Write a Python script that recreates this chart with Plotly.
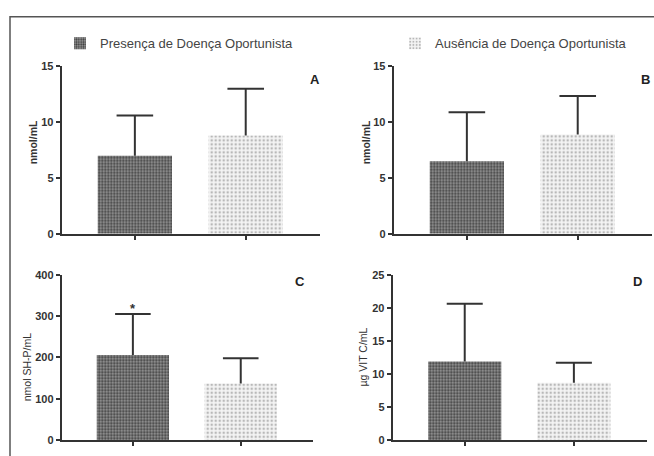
import plotly.graph_objects as go

# ---- data ----
groups = ["Presença de Doença Oportunista", "Ausência de Doença Oportunista"]
panel_letters = ["A", "B", "C", "D"]
y_titles = ["nmol/mL", "nmol/mL", "nmol SH-P/mL", "µg VIT C/mL"]
means_A = [7.0, 8.8]
err_A = [3.6, 4.2]
means_B = [6.5, 8.9]
err_B = [4.4, 3.45]
means_C = [206, 137]
err_C = [99, 61]
means_D = [11.9, 8.7]
err_D = [8.7, 3.0]
y_max = [15, 15, 400, 25]
y_dtick = [5, 5, 100, 5]
sig_marks = [None, None, ["*", ""], None]

means = [means_A, means_B, means_C, means_D]
errs = [err_A, err_B, err_C, err_D]

W, H = 654, 456
def px(x):
    return x / W
def py(y):
    return 1 - y / H

FONT = "Liberation Sans, Arial, sans-serif"
AX = "#333333"
CAP = 0.165  # half cap width in category units

# panel geometry (pixels)
geo = [
    dict(x0=61.7, x1=320, y0=62, y1=234),
    dict(x0=393.7, x1=652, y0=62, y1=234),
    dict(x0=61.7, x1=313, y0=276, y1=446),
    dict(x0=392.7, x1=647, y0=276, y1=446),
]

dark = dict(color="#6a6a6a", line=dict(width=0),
            pattern=dict(shape=".", fillmode="replace", bgcolor="#9a9a9a",
                         fgcolor="#3a3a3a", size=3, solidity=0.45))
light = dict(color="#eeeeee", line=dict(width=0),
             pattern=dict(shape=".", fillmode="replace", bgcolor="#f4f4f4",
                          fgcolor="#b8b8b8", size=4, solidity=0.3))
styles = [dark, light]

fig = go.Figure()
for p in range(4):
    xa = "x" if p == 0 else f"x{p+1}"
    ya = "y" if p == 0 else f"y{p+1}"
    for g in range(2):
        fig.add_trace(go.Bar(
            x=[g], y=[means[p][g]], width=0.67,
            marker=styles[g],
            name=groups[g],
            showlegend=(p == 0),
            legend=("legend" if g == 0 else "legend2"),
            xaxis=xa, yaxis=ya, hoverinfo="skip",
        ))
    # upper error whiskers (stem + cap), derived from the data arrays
    ex, ey = [], []
    for g in range(2):
        top = means[p][g] + errs[p][g]
        ex += [g, g, None, g - CAP, g + CAP, None]
        ey += [means[p][g], top, None, top, top, None]
    fig.add_trace(go.Scatter(x=ex, y=ey, mode="lines",
                             line=dict(color=AX, width=2),
                             showlegend=False, hoverinfo="skip",
                             xaxis=xa, yaxis=ya))

layout = dict(
    width=W, height=H,
    margin=dict(l=0, r=0, t=0, b=0),
    paper_bgcolor="white", plot_bgcolor="white",
    font=dict(family=FONT, color=AX),
    barmode="overlay",
    legend=dict(x=px(60), y=py(23), xanchor="left", yanchor="top",
                font=dict(size=13, color="#444444"), bgcolor="rgba(0,0,0,0)"),
    legend2=dict(x=px(395), y=py(23), xanchor="left", yanchor="top",
                 font=dict(size=13, color="#444444"), bgcolor="rgba(0,0,0,0)"),
)
annotations = []
for p in range(4):
    g = geo[p]
    xk = "xaxis" if p == 0 else f"xaxis{p+1}"
    yk = "yaxis" if p == 0 else f"yaxis{p+1}"
    layout[xk] = dict(domain=[px(g["x0"]), px(g["x1"])], range=[-0.66, 1.67],
                      showticklabels=False, ticks="outside", ticklen=4, tickwidth=1.5,
                      tickcolor=AX, tickvals=[0, 1], showline=True, linewidth=2,
                      linecolor=AX, showgrid=False, zeroline=False,
                      anchor="y" if p == 0 else f"y{p+1}")
    layout[yk] = dict(domain=[py(g["y1"]), py(g["y0"])], range=[0, y_max[p]],
                      dtick=y_dtick[p], ticks="outside", ticklen=4, tickwidth=1.5,
                      tickcolor=AX, showline=True, linewidth=2, linecolor=AX,
                      showgrid=False, zeroline=False,
                      tickfont=dict(size=11, color=AX, family=FONT, weight="bold"),
                      anchor="x" if p == 0 else f"x{p+1}")

# y titles
ytitle_pos = [(33, 140, True), (366, 140, True), (27, 371, False), (362, 361, False)]
for p in range(4):
    xx, yy, bold = ytitle_pos[p]
    annotations.append(dict(x=px(xx), y=py(yy), xref="paper", yref="paper",
                            text=(f"<b>{y_titles[p]}</b>" if bold else y_titles[p]),
                            textangle=-90, showarrow=False,
                            font=dict(size=10.5, color=AX), xanchor="center", yanchor="middle"))
# panel letters
letter_pos = [(315, 76), (645, 75), (300, 283), (637, 283)]
for p in range(4):
    xx, yy = letter_pos[p]
    annotations.append(dict(x=px(xx), y=py(yy), xref="paper", yref="paper",
                            text=f"<b>{panel_letters[p]}</b>", showarrow=False,
                            font=dict(size=13, color="#222222"), xanchor="center", yanchor="middle"))
# significance marks
for p in range(4):
    if sig_marks[p]:
        for g in range(2):
            if sig_marks[p][g]:
                annotations.append(dict(x=g, y=means[p][g] + errs[p][g],
                                        xref=f"x{p+1}" if p else "x", yref=f"y{p+1}" if p else "y",
                                        text=f"<b>{sig_marks[p][g]}</b>", showarrow=False,
                                        yanchor="middle", yshift=6,
                                        font=dict(size=13, color=AX)))
layout["annotations"] = annotations
layout["shapes"] = [dict(type="rect", xref="paper", yref="paper",
                         x0=px(10), x1=1.05, y0=-0.05, y1=py(11),
                         line=dict(color="#555555", width=1.5))]
fig.update_layout(**layout)
fig.write_html("out.html", config={"displayModeBar": False},
               post_script="document.body.style.margin='0';document.body.style.overflow='hidden';")
